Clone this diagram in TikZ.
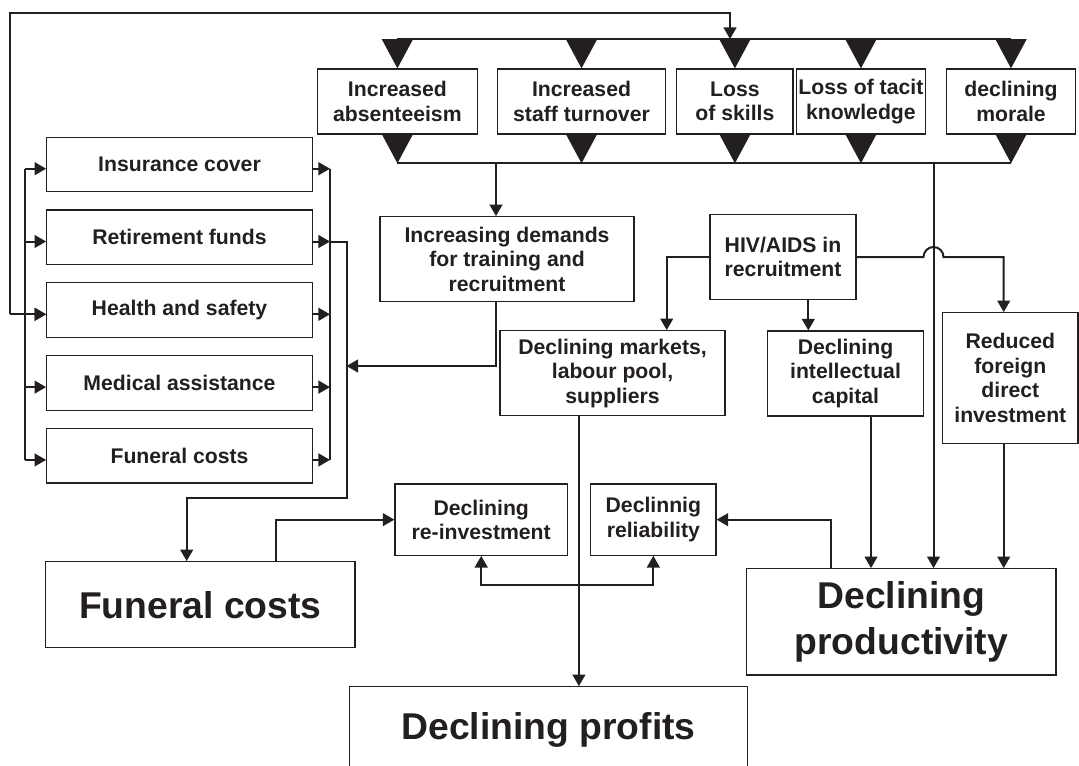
\documentclass[tikz,border=0pt]{standalone}
\usepackage{fontspec}
\setmainfont{Liberation Sans}
\usepackage{xcolor}
\definecolor{inkblack}{RGB}{35,31,32}
\usepackage{tikz}
\usetikzlibrary{
    arrows.meta,
    positioning
}
\tikzstyle{arrow} = [
    line width=1pt,
    draw=inkblack,
    -{Triangle[length=5.8pt,width=6.4pt]}
]

\begin{document}
\begin{tikzpicture}[
  x=0.5pt, y=-0.5pt,
  box/.style={draw=inkblack, line width=0.6pt, align=center, inner sep=1pt,
    text=inkblack, font=\fontsize{10.6}{12.2}\selectfont\bfseries},
  bigbox/.style={box, font=\fontsize{18.65}{22.8}\selectfont\bfseries},
  sidebox/.style={box, minimum width=132.8pt, minimum height=27.3pt},
  topbox/.style={box, minimum height=32.5pt},
  bus/.style={line width=1pt, draw=inkblack},
  bigtri/.style={line width=1pt, draw=inkblack, -{Triangle[length=14.6pt,width=15.4pt]}},
  dblarrow/.style={arrow, {Triangle[length=5.8pt,width=6.4pt]}-{Triangle[length=5.8pt,width=6.4pt]}}
]
\useasboundingbox (0,0) rectangle (1079,765);
\clip (0,0) rectangle (1079,765);

\node[topbox, minimum width=79.9pt]  (abs)    at (397.4,101.5) {Increased\\absenteeism};
\node[topbox, minimum width=84pt]    (turn)   at (581.5,101.5) {Increased\\staff turnover};
\node[topbox, minimum width=58.1pt]  (skills) at (734.9,101.5) {Loss\\of skills};
\node[topbox, minimum width=64.1pt]  (tacit)  at (860.9,101.5) {Loss of tacit\\knowledge};
\node[topbox, minimum width=64.25pt] (morale) at (1011,101.5)  {declining\\morale};

\node[sidebox] (ins) at (179.5,164.5) {Insurance cover};
\node[sidebox, below=8.5pt of ins] (ret) {Retirement funds};
\node[sidebox, below=8.5pt of ret] (hs)  {Health and safety};
\node[sidebox, below=8.5pt of hs]  (med) {Medical assistance};
\node[sidebox, below=8.5pt of med] (fun) {Funeral costs};

\node[box, minimum width=127pt, minimum height=42.5pt]   (incdem)  at (507,259.2)   {Increasing demands\\for training and\\recruitment};
\node[box, minimum width=73pt, minimum height=42.3pt]    (hiv)     at (783,257)     {HIV/AIDS in\\recruitment};
\node[box, minimum width=112.5pt, minimum height=42.5pt] (markets) at (612.5,373.2) {Declining markets,\\labour pool,\\suppliers};
\node[box, minimum width=77.8pt, minimum height=42.5pt]  (intel)   at (845.5,373.5) {Declining\\intellectual\\capital};
\node[box, minimum width=67.7pt, minimum height=65.3pt]  (reduced) at (1010.3,378)  {Reduced\\foreign\\direct\\investment};
\node[box, minimum width=86.25pt, minimum height=35.65pt] (reinv)  at (481.2,519.65) {Declining\\re-investment};
\node[box, minimum width=62.65pt, minimum height=35.65pt] (rel)    at (653.35,519.65) {Declinnig\\reliability};

\node[bigbox, minimum width=154.6pt, minimum height=43pt]    (funbig)  at (200.4,604.7)  {Funeral costs};
\node[bigbox, minimum width=154.65pt, minimum height=53.15pt] (prod)   at (901.35,621.85) {Declining\\productivity};
\node[bigbox, minimum width=199.2pt, minimum height=43.7pt]  (profits) at (548.5,730.4)  {Declining profits};

\coordinate (tbus)   at (0,39);
\coordinate (bbus)   at (0,163.3);
\coordinate (frameL) at (9.5,12.8);
\coordinate (frameR) at (730,12.8);
\coordinate (busL)   at (25.3,0);
\coordinate (busR)   at (330,0);
\coordinate (retx)   at (346.5,498.3);
\coordinate (funin)  at (186.7,498.3);
\coordinate (demin)  at (346.5,366);
\coordinate (dropA)  at (496,163.3);
\coordinate (dropB)  at (933.5,163.3);
\coordinate (hopL)   at (923.5,257);
\coordinate (under)  at (0,585);
\coordinate (mkout)  at ([xshift=-16.8pt]markets.south);
\coordinate (hivdn)  at ([xshift=12.65pt]hiv.south);
\coordinate (mkin)   at ([xshift=27.1pt]markets.north);
\coordinate (intout) at ([xshift=12.75pt]intel.south);
\coordinate (redin)  at ([xshift=-3.3pt]reduced.north);
\coordinate (redout) at ([xshift=-3.3pt]reduced.south);
\coordinate (produp) at ([xshift=-35.3pt]prod.north);
\coordinate (funup)  at ([xshift=37.8pt]funbig.north);
\foreach \b in {ins,ret,hs,med,fun} {
  \coordinate (\b-in)  at ([yshift=-2.1pt]\b.west);
  \coordinate (\b-out) at ([yshift=-2.1pt]\b.east);
}

\draw[bus] (abs.north |- tbus) -- (morale.north |- tbus);
\draw[bus] (abs.south |- bbus) -- (morale.south |- bbus);
\foreach \t in {abs,turn,skills,tacit,morale} {
  \draw[bigtri] (\t.north |- tbus) -- (\t.north);
  \draw[bigtri] (\t.south) -- (\t.south |- bbus);
}

\draw[arrow] (frameL |- hs-in) -- (frameL) -- (frameR) -- (frameR |- tbus);

\draw[bus] (busL |- ins-in) -- (busL |- fun-in);
\draw[bus] (busR |- ins-out) -- (busR |- fun-out);
\foreach \b in {ins,ret,hs,med,fun} {
  \draw[arrow] (busL |- \b-in) -- (\b-in);
  \draw[arrow] (\b-out) -- (busR |- \b-out);
}
\draw[arrow] (frameL |- hs-in) -- (hs-in);
\draw[arrow] (busR |- ret-out) -| (retx) -| (funin |- funbig.north);

\draw[arrow] (dropA) -- (dropA |- incdem.north);
\draw[arrow] (dropA |- incdem.south) |- (demin);
\draw[arrow] (dropB) -- (dropB |- prod.north);

\draw[arrow] (hiv.west) -| (mkin);
\draw[arrow] (hivdn) -- (hivdn |- intel.north);
\draw[arrow] (hiv.east) -- (hopL) arc[start angle=180, end angle=0, radius=5pt] -| (redin);

\draw[arrow] (mkout) -- (mkout |- profits.north);
\draw[arrow] (intout) -- (intout |- prod.north);
\draw[arrow] (redout) -- (redout |- prod.north);

\draw[arrow] (produp) |- (rel.east);
\draw[arrow] (funup) |- (reinv.west);
\draw[dblarrow] (reinv.south) -- (reinv.south |- under) -- (rel.south |- under) -- (rel.south);

\end{tikzpicture}
\end{document}
